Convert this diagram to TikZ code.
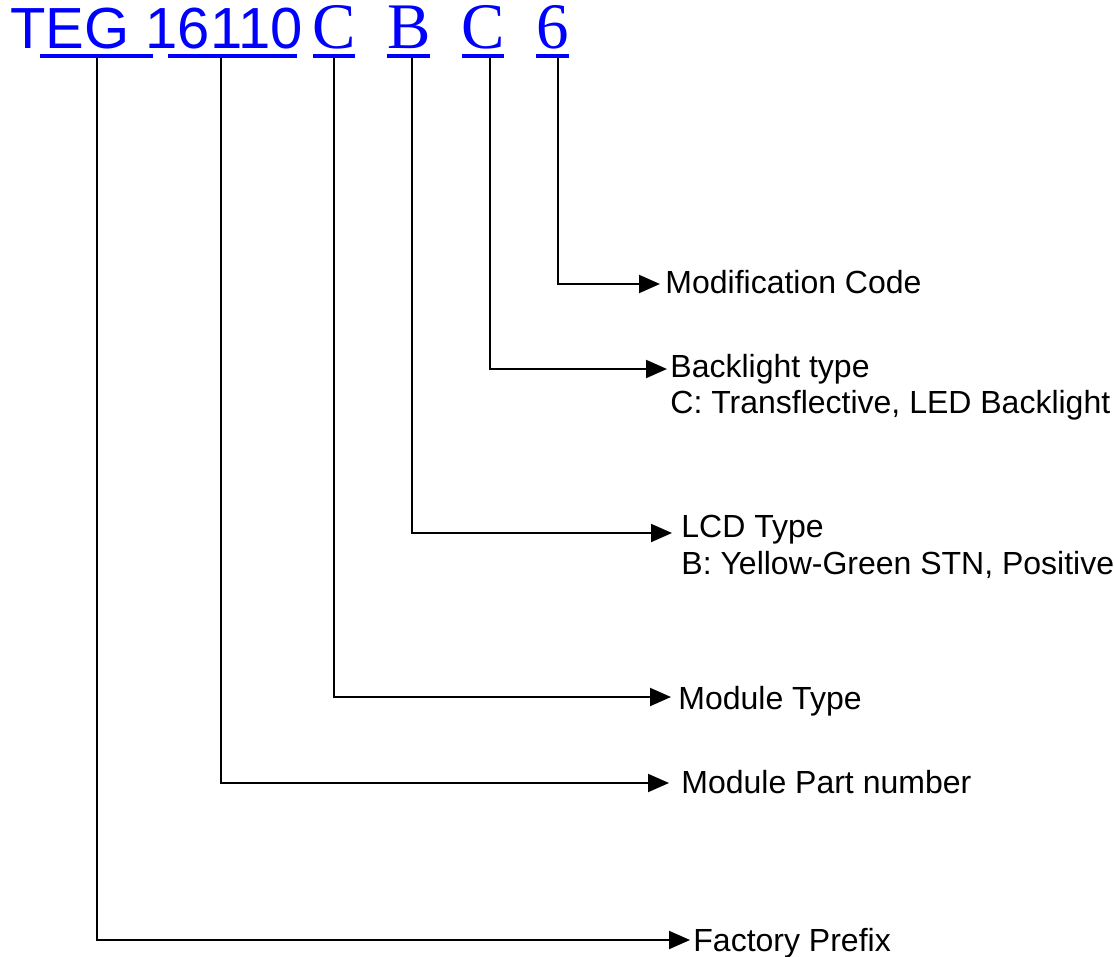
\documentclass[tikz,border=0pt]{standalone}
\usepackage{fontspec}
\setmainfont{Liberation Sans}
\newfontfamily\serifcode{Liberation Serif}
\usetikzlibrary{arrows.meta}
\definecolor{codeblue}{RGB}{0,0,255}
\begin{document}
\begin{tikzpicture}[x=0.5pt,y=-0.5pt,
  codesans/.style={inner sep=0pt,anchor=base west,text=codeblue,font=\fontsize{29}{34}\selectfont},
  codeserif/.style={inner sep=0pt,anchor=base west,text=codeblue,font=\serifcode\fontsize{32.5}{38}\selectfont},
  uline/.style={draw=codeblue,line width=1.8pt},
  conn/.style={draw=black,line width=1pt,-{Triangle[length=10.5pt,width=9pt]}},
  lbl/.style={inner sep=0pt,anchor=base west,font=\fontsize{16}{19}\selectfont}]
\useasboundingbox (0,0) rectangle (1114,957);
% code text
\node[codesans] (teg) at (10,49) {TEG 16110};
\node[codeserif] (c1) at (312,49) {C};
\node[codeserif] (b1) at (387,49) {B};
\node[codeserif] (c2) at (461,49) {C};
\node[codeserif] (six) at (536,49) {6};
% underlines
\draw[uline] (40,56) -- (153,56);
\draw[uline] (168,56) -- (297,56);
\draw[uline] (313,56) -- (355,56);
\draw[uline] (387,56) -- (430,56);
\draw[uline] (462,56) -- (504,56);
\draw[uline] (536,56) -- (569,56);
% connector starts
\coordinate (s1) at (97,58);
\coordinate (s2) at (221,58);
\coordinate (s3) at (334,58);
\coordinate (s4) at (412,58);
\coordinate (s5) at (490,58);
\coordinate (s6) at (558,58);
% arrow tips
\coordinate (t1) at (690,940);
\coordinate (t2) at (669,783);
\coordinate (t3) at (671,697);
\coordinate (t4) at (672,533);
\coordinate (t5) at (667,369);
\coordinate (t6) at (660,284);
% labels
\node[lbl] (l6) at (665,293) {Modification Code};
\node[lbl] (l5) at (670,378) {Backlight type};
\node[lbl] (l5b) at (670,413) {C: Transflective, LED Backlight};
\node[lbl] (l4) at (681,537) {LCD Type};
\node[lbl] (l4b) at (681,574) {B: Yellow-Green STN, Positive};
\node[lbl] (l3) at (678,709) {Module Type};
\node[lbl] (l2) at (681,793) {Module Part number};
\node[lbl] (l1) at (693,951) {Factory Prefix};
% connectors
\draw[conn] (s1) |- (t1);
\draw[conn] (s2) |- (t2);
\draw[conn] (s3) |- (t3);
\draw[conn] (s4) |- (t4);
\draw[conn] (s5) |- (t5);
\draw[conn] (s6) |- (t6);
\end{tikzpicture}
\end{document}
